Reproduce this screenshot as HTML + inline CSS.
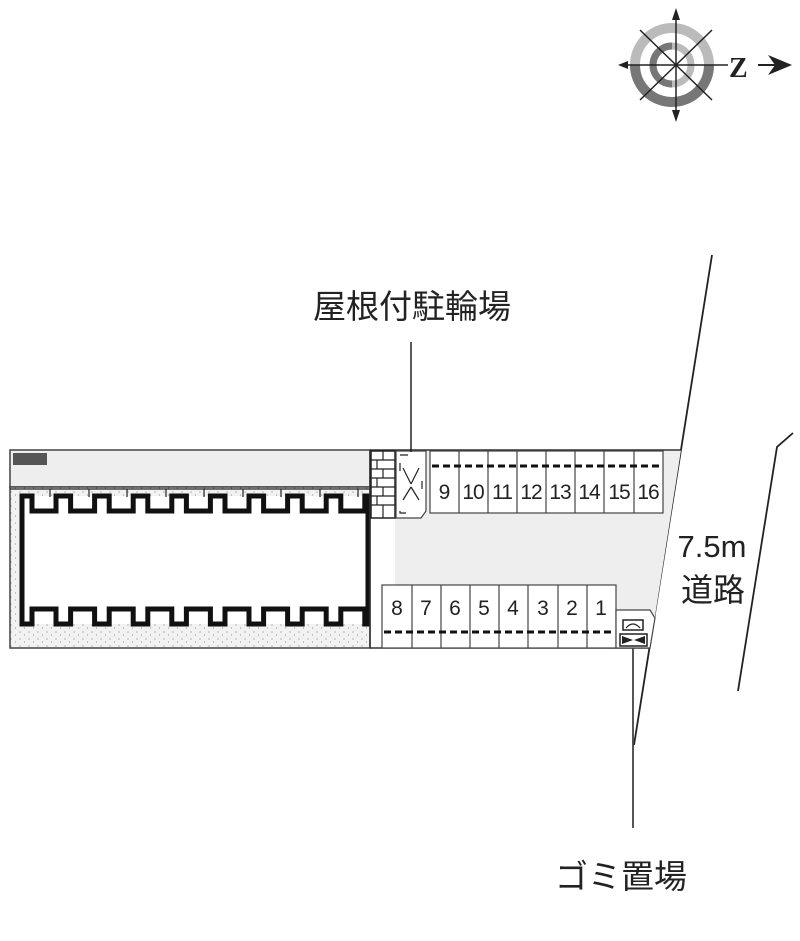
<!DOCTYPE html>
<html><head><meta charset="utf-8"><style>
body{margin:0;background:#fff;}
svg{display:block}
text{font-family:"Liberation Sans","Noto Sans CJK JP",sans-serif;fill:#222}
</style></head><body>
<svg width="800" height="941" viewBox="0 0 800 941" xmlns="http://www.w3.org/2000/svg">
<defs>
<pattern id="dots" width="9" height="7" patternUnits="userSpaceOnUse">
<rect width="9" height="7" fill="#f2f2f2"/>
<circle cx="2" cy="2" r="0.6" fill="#888"/><circle cx="6.5" cy="5" r="0.6" fill="#999"/>
</pattern>
</defs>
<!-- compass -->
<g>
<circle cx="672" cy="65" r="37" fill="none" stroke="#bbb" stroke-width="10"/>
<path d="M635 65 A37 37 0 0 0 709 65" fill="none" stroke="#777" stroke-width="10"/>
<circle cx="672" cy="65" r="19" fill="none" stroke="#bbb" stroke-width="7"/>
<path d="M672 46 A19 19 0 0 0 653 65 A19 19 0 0 0 672 84" fill="none" stroke="#777" stroke-width="7"/>
<g stroke="#222" stroke-width="1.5">
<line x1="676" y1="12" x2="676" y2="118"/>
<line x1="622" y1="65" x2="728" y2="65"/>
<line x1="640" y1="30" x2="712" y2="100"/>
<line x1="712" y1="30" x2="640" y2="100"/>
<line x1="758" y1="65" x2="775" y2="65" stroke-width="2"/>
</g>
<polygon points="676,8 672,20 680,20" fill="#222"/>
<polygon points="676,122 672,110 680,110" fill="#222"/>
<polygon points="618,65 628,61 628,69" fill="#222"/>
<polygon points="792,65 768,55 775,65 768,75" fill="#222"/>
<text x="729" y="77" font-size="28" font-weight="bold" style="font-family:'Liberation Serif',serif">Z</text>
</g>
<!-- road lines -->
<g stroke="#222" stroke-width="1.8" fill="none">
<line x1="712" y1="255" x2="634" y2="745"/>
<polyline points="793,433 777,447 738,691"/>
</g>
<!-- site -->
<polygon points="395,450 681,450 650,648 395,648" fill="#eeeeee"/>
<rect x="10" y="450" width="360" height="37" fill="#eeeeee" stroke="#444" stroke-width="1.5"/>
<rect x="10" y="487" width="360" height="161" fill="url(#dots)" stroke="#444" stroke-width="1.5"/>
<rect x="22" y="496" width="346" height="128" fill="#fff"/>
<rect x="13" y="453" width="34" height="12" fill="#555"/>
<g stroke="#222" stroke-width="1.2">
<line x1="10" y1="489" x2="370" y2="489"/>
<line x1="50" y1="489" x2="50" y2="497"/><line x1="89" y1="489" x2="89" y2="497"/><line x1="127" y1="489" x2="127" y2="497"/><line x1="166" y1="489" x2="166" y2="497"/><line x1="204" y1="489" x2="204" y2="497"/><line x1="243" y1="489" x2="243" y2="497"/><line x1="281" y1="489" x2="281" y2="497"/><line x1="320" y1="489" x2="320" y2="497"/><line x1="358" y1="489" x2="358" y2="497"/>
</g>
<path d="M22 496 H32 V511 H56 V496 H70.6 V511 H94.6 V496 H109.2 V511 H133.2 V496 H147.8 V511 H171.8 V496 H186.4 V511 H210.4 V496 H225 V511 H249 V496 H263.6 V511 H287.6 V496 H302.2 V511 H326.2 V496 H340.8 V511 H364.8 V496 H368 V624 H364.8 V609 H340.8 V624 H326.2 V609 H302.2 V624 H287.6 V609 H263.6 V624 H249 V609 H225 V624 H210.4 V609 H186.4 V624 H171.8 V609 H147.8 V624 H133.2 V609 H109.2 V624 H94.6 V609 H70.6 V624 H56 V609 H32 V624 H22 Z" fill="none" stroke="#111" stroke-width="5"/>
<line x1="370" y1="450" x2="370" y2="648" stroke="#333" stroke-width="1.5"/>
<line x1="370" y1="648" x2="650" y2="648" stroke="#333" stroke-width="1.5"/>
<line x1="370" y1="450" x2="681" y2="450" stroke="#333" stroke-width="1.5"/>
<!-- bricks -->
<rect x="371" y="451" width="24" height="67" fill="#fff" stroke="#222" stroke-width="1.5"/>
<g stroke="#222" stroke-width="1.2">
<line x1="371" y1="460" x2="395" y2="460"/><line x1="371" y1="469" x2="395" y2="469"/><line x1="371" y1="478" x2="395" y2="478"/><line x1="371" y1="487" x2="395" y2="487"/><line x1="371" y1="496" x2="395" y2="496"/><line x1="371" y1="505" x2="395" y2="505"/>
<line x1="383" y1="451" x2="383" y2="460"/><line x1="377" y1="460" x2="377" y2="469"/><line x1="383" y1="469" x2="383" y2="478"/><line x1="377" y1="478" x2="377" y2="487"/><line x1="383" y1="487" x2="383" y2="496"/><line x1="377" y1="496" x2="377" y2="505"/><line x1="383" y1="505" x2="383" y2="518"/>
</g>
<!-- bike -->
<path d="M396 451 H426 V511 L421 518 H396 Z" fill="#fff" stroke="#444" stroke-width="1.2"/>
<rect x="400" y="455" width="22" height="58" fill="none" stroke="#222" stroke-width="1.2" stroke-dasharray="8 40"/>
<g stroke="#222" stroke-width="1.2"><line x1="403" y1="468" x2="411" y2="484"/><line x1="419" y1="468" x2="411" y2="484"/><line x1="403" y1="500" x2="411" y2="487"/><line x1="419" y1="500" x2="411" y2="487"/></g>
<line x1="411" y1="342" x2="411" y2="452" stroke="#222" stroke-width="1.5"/>
<!-- spaces top -->
<rect x="430" y="451" width="233" height="62" fill="#fff" stroke="#444" stroke-width="1.2"/>
<g stroke="#444" stroke-width="1.2">
<line x1="459" y1="451" x2="459" y2="513"/><line x1="488" y1="451" x2="488" y2="513"/><line x1="517" y1="451" x2="517" y2="513"/><line x1="546" y1="451" x2="546" y2="513"/><line x1="575" y1="451" x2="575" y2="513"/><line x1="604" y1="451" x2="604" y2="513"/><line x1="634" y1="451" x2="634" y2="513"/>
</g>
<line x1="432" y1="466" x2="662" y2="466" stroke="#111" stroke-width="3" stroke-dasharray="7 4"/>
<g font-size="21" text-anchor="middle" letter-spacing="-1">
<text x="444" y="499">9</text><text x="473" y="499">10</text><text x="502" y="499">11</text><text x="531" y="499">12</text><text x="560" y="499">13</text><text x="589" y="499">14</text><text x="619" y="499">15</text><text x="648" y="499">16</text>
</g>
<!-- spaces bottom -->
<rect x="382" y="585" width="234" height="63" fill="#fff" stroke="#444" stroke-width="1.2"/>
<g stroke="#444" stroke-width="1.2">
<line x1="412" y1="585" x2="412" y2="648"/><line x1="441" y1="585" x2="441" y2="648"/><line x1="470" y1="585" x2="470" y2="648"/><line x1="499" y1="585" x2="499" y2="648"/><line x1="528" y1="585" x2="528" y2="648"/><line x1="558" y1="585" x2="558" y2="648"/><line x1="587" y1="585" x2="587" y2="648"/>
</g>
<line x1="384" y1="632" x2="614" y2="632" stroke="#111" stroke-width="3" stroke-dasharray="7 4"/>
<g font-size="21" text-anchor="middle">
<text x="397" y="615">8</text><text x="426" y="615">7</text><text x="455" y="615">6</text><text x="484" y="615">5</text><text x="513" y="615">4</text><text x="543" y="615">3</text><text x="572" y="615">2</text><text x="601" y="615">1</text>
</g>
<!-- gomi -->
<path d="M616 610 H650 L655 618 L650 648 H616 Z" fill="#fff" stroke="#444" stroke-width="1.2"/>
<rect x="623" y="620" width="20" height="10" fill="none" stroke="#222" stroke-width="1.5"/>
<path d="M626 628 Q633 620 640 628" fill="none" stroke="#222" stroke-width="1.2"/>
<rect x="620" y="634" width="27" height="12" fill="none" stroke="#222" stroke-width="1.5"/>
<path d="M622 636 L633 640 L622 644 Z M645 636 L634 640 L645 644 Z" fill="#222"/>
<line x1="633" y1="648" x2="633" y2="828" stroke="#444" stroke-width="1.8"/>
<!-- labels -->
<text x="412" y="318" font-size="33" text-anchor="middle">屋根付駐輪場</text>
<text x="621" y="888" font-size="33" text-anchor="middle">ゴミ置場</text>
<text x="712" y="557" font-size="31" text-anchor="middle">7.5m</text>
<text x="713" y="601" font-size="32" text-anchor="middle">道路</text>
</svg>
</body></html>
